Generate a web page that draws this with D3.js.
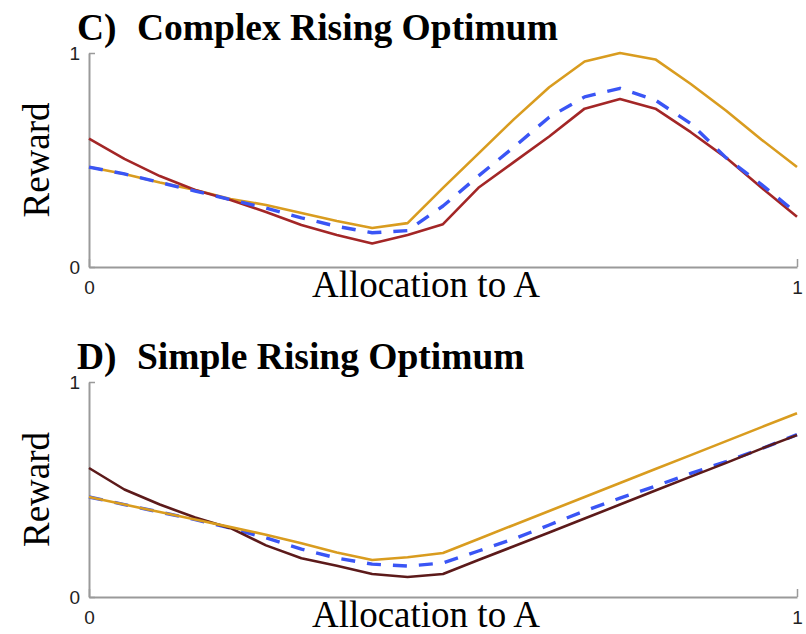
<!DOCTYPE html>
<html>
<head>
<meta charset="utf-8">
<script src="https://cdn.jsdelivr.net/npm/d3@7"></script>
<style>
body{margin:0;background:#fff;}
</style>
</head>
<body>
<div id="chart"></div>
<script>
// allocation to A (x), 0..1 in steps of 0.05
var allocation=[0,0.05,0.1,0.15,0.2,0.25,0.3,0.35,0.4,0.45,0.5,0.55,0.6,0.65,0.7,0.75,0.8,0.85,0.9,0.95,1];

// C) complex rising optimum
var cGold=[0.467,0.435,0.395,0.36,0.318,0.29,0.252,0.215,0.182,0.205,0.37,0.53,0.69,0.84,0.96,1.0,0.97,0.855,0.73,0.595,0.467];
var cRed=[0.60,0.505,0.425,0.36,0.313,0.257,0.196,0.15,0.11,0.15,0.20,0.37,0.49,0.61,0.74,0.785,0.74,0.63,0.51,0.37,0.235];
var cBlue=[0.467,0.435,0.395,0.355,0.315,0.275,0.23,0.19,0.16,0.17,0.285,0.425,0.56,0.70,0.795,0.835,0.78,0.67,0.51,0.385,0.25];

// D) simple rising optimum
var dGold=[0.465,0.43,0.395,0.36,0.325,0.29,0.25,0.207,0.172,0.185,0.205,0.27,0.335,0.40,0.465,0.53,0.595,0.66,0.725,0.79,0.855];
var dRed=[0.60,0.50,0.43,0.37,0.32,0.24,0.18,0.145,0.107,0.093,0.107,0.172,0.236,0.30,0.365,0.43,0.495,0.56,0.624,0.69,0.753];
var dBlue=[0.465,0.43,0.395,0.36,0.32,0.275,0.223,0.181,0.153,0.144,0.158,0.214,0.27,0.335,0.40,0.46,0.516,0.575,0.63,0.69,0.755];

var xTicks=[0,1];
var yTicks=[0,1];

var width=806, height=634;
var svg=d3.select("#chart").append("svg").attr("width",width).attr("height",height);

var gold="#d99c1f", blue="#3a55f5";

var panels=[
  {label:"C)",title:"Complex Rising Optimum",top:53,bottom:267,
   lines:[{v:cGold,c:gold,w:2.6},{v:cRed,c:"#a32626",w:2.6},{v:cBlue,c:blue,w:3.4,dash:"14,12"}]},
  {label:"D)",title:"Simple Rising Optimum",top:382,bottom:597,
   lines:[{v:dBlue,c:blue,w:3.4,dash:"14,12"},{v:dRed,c:"#5c1a1a",w:2.6},{v:dGold,c:gold,w:2.6}]}
];

var left=89,right=797;
var x=d3.scaleLinear().domain([0,1]).range([left,right]);

panels.forEach(function(p){
  var y=d3.scaleLinear().domain([0,1]).range([p.bottom,p.top]);
  var g=svg.append("g");

  // title
  g.append("text").attr("x",77).attr("y",p.top-13)
   .style("font-family","'Liberation Serif','Times New Roman',serif")
   .style("font-weight","bold").style("font-size","37.5px").text(p.label);
  g.append("text").attr("x",137).attr("y",p.top-13)
   .style("font-family","'Liberation Serif','Times New Roman',serif")
   .style("font-weight","bold").style("font-size","37.5px").text(p.title);

  // axes
  var ya=g.append("g").attr("transform","translate("+left+",0)")
   .call(d3.axisLeft(y).tickValues(yTicks).tickFormat(d3.format("d")).tickSizeInner(-6).tickSizeOuter(0).tickPadding(9));
  var xa=g.append("g").attr("transform","translate(0,"+p.bottom+")")
   .call(d3.axisBottom(x).tickValues(xTicks).tickFormat(d3.format("d")).tickSizeInner(-8).tickSizeOuter(0).tickPadding(14));
  [ya,xa].forEach(function(a){
    a.select(".domain").attr("stroke","#9a9a9a").attr("stroke-width",2);
    a.selectAll(".tick line").attr("stroke","#9a9a9a").attr("stroke-width",1.5);
    a.selectAll(".tick text").attr("fill","#222")
     .style("font-family","'Liberation Sans',Arial,sans-serif").style("font-size","19px");
  });

  // axis labels
  g.append("text").attr("x",426).attr("y",p.bottom+30).attr("text-anchor","middle")
   .style("font-family","'Liberation Serif','Times New Roman',serif").style("font-size","37px")
   .text("Allocation to A");
  g.append("text").attr("transform","translate(49,"+(p.top+p.bottom)/2+") rotate(-90)")
   .attr("text-anchor","middle")
   .style("font-family","'Liberation Serif','Times New Roman',serif").style("font-size","37px")
   .text("Reward");

  // lines
  var line=d3.line().x(function(d,i){return x(allocation[i]);}).y(function(d){return y(d);});
  p.lines.forEach(function(l){
    g.append("path").datum(l.v).attr("d",line).attr("fill","none")
     .attr("stroke",l.c).attr("stroke-width",l.w)
     .attr("stroke-dasharray",l.dash||null).attr("stroke-linejoin","round");
  });
});
</script>
</body>
</html>
